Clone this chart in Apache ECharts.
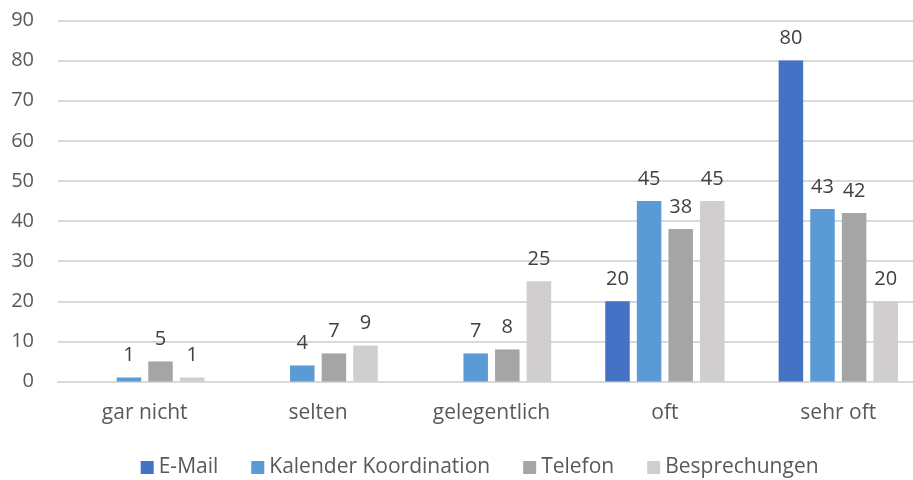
<!DOCTYPE html>
<html>
<head>
<meta charset="utf-8">
<script src="https://cdn.jsdelivr.net/npm/echarts@6/dist/echarts.min.js"></script>
<style>
html,body{margin:0;padding:0;background:#fff;}
#chart{width:913px;height:480px;}
</style>
</head>
<body>
<div id="chart"></div>
<script>
const categories = ['gar nicht', 'selten', 'gelegentlich', 'oft', 'sehr oft'];
const seriesNames = ['E-Mail', 'Kalender Koordination', 'Telefon', 'Besprechungen'];
const emailValues = [null, null, null, 20, 80];
const kalenderValues = [1, 4, 7, 45, 43];
const telefonValues = [5, 7, 8, 38, 42];
const besprechungenValues = [1, 9, 25, 45, 20];
const yTicks = [0, 10, 20, 30, 40, 50, 60, 70, 80, 90];

const colors = ['#4472C4', '#5B9BD5', '#A5A5A5', '#D0CECE'];
const allValues = [emailValues, kalenderValues, telefonValues, besprechungenValues];
const FONT = '"Open Sans", "Noto Sans", sans-serif';

const chart = echarts.init(document.getElementById('chart'));
chart.setOption({
  animation: false,
  color: colors,
  textStyle: { fontFamily: FONT },
  grid: { left: 58, width: 867, top: 20.5, height: 361, containLabel: false, outerBoundsMode: 'none' },
  legend: {
    data: seriesNames,
    top: 452,
    left: 135.7,
    itemWidth: 13,
    itemHeight: 13,
    itemGap: 33,
    icon: 'rect',
    textStyle: { color: '#595959', fontSize: 21, fontFamily: FONT }
  },
  xAxis: {
    type: 'category',
    data: categories,
    axisLine: { show: true, lineStyle: { color: '#D9D9D9', width: 2 } },
    axisTick: { show: false },
    axisLabel: { color: '#595959', fontSize: 21, fontFamily: FONT, margin: 21 }
  },
  yAxis: {
    type: 'value',
    min: yTicks[0],
    max: yTicks[yTicks.length - 1],
    interval: 10,
    axisLine: { show: false },
    axisTick: { show: false },
    splitLine: { lineStyle: { color: '#D9D9D9', width: 2 } },
    axisLabel: { color: '#595959', fontSize: 20, fontFamily: FONT, margin: 24 }
  },
  series: seriesNames.map((name, i) => ({
    name: name,
    type: 'bar',
    data: allValues[i],
    barWidth: 24.5,
    barGap: '29%',
    itemStyle: { color: colors[i] },
    label: {
      show: true,
      position: 'top',
      distance: 12,
      color: '#404040',
      fontSize: 20,
      fontFamily: FONT
    }
  }))
});
</script>
</body>
</html>
